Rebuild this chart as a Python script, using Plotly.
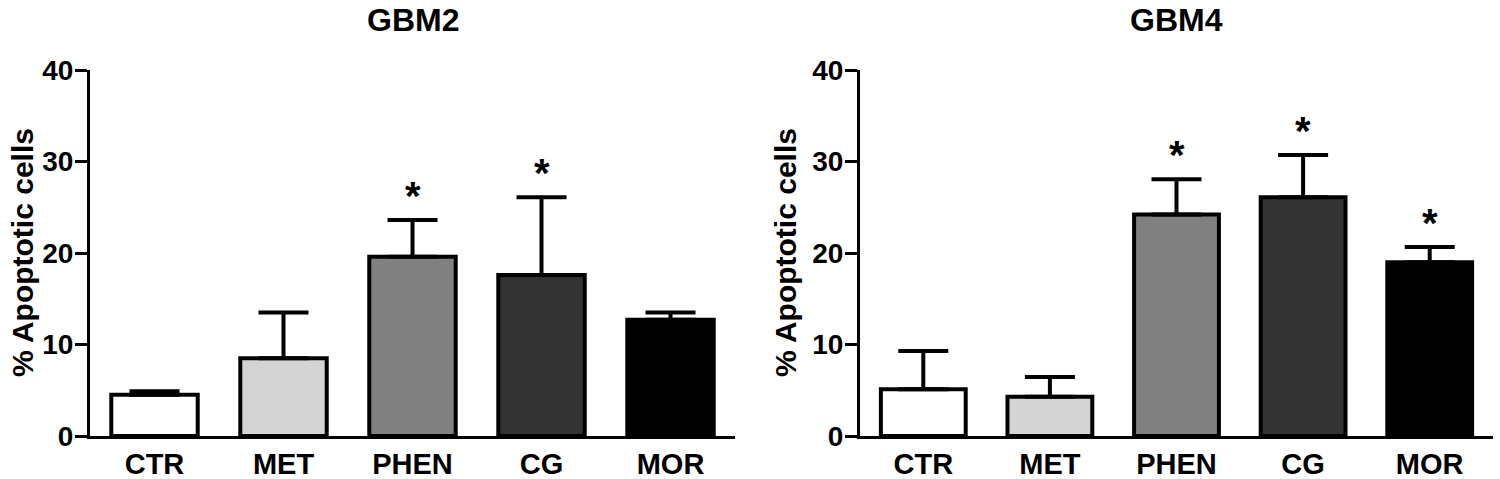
import plotly.graph_objects as go

categories = ["CTR", "MET", "PHEN", "CG", "MOR"]
bar_colors = ["#ffffff", "#d4d4d4", "#808080", "#333333", "#000000"]

gbm2_mean = [4.5, 8.5, 19.6, 17.6, 12.7]
gbm2_sem = [0.4, 5.0, 4.0, 8.5, 0.8]
gbm2_sig = ["", "", "*", "*", ""]

gbm4_mean = [5.1, 4.3, 24.2, 26.1, 19.0]
gbm4_sem = [4.2, 2.15, 3.85, 4.6, 1.65]
gbm4_sig = ["", "", "*", "*", "*"]

panel_titles = ["GBM2", "GBM4"]
y_title = "% Apoptotic cells"
y_ticks = [0, 10, 20, 30, 40]

FONT = "Liberation Sans, Arial, sans-serif"

fig = go.Figure()

panels = [(gbm2_mean, gbm2_sem, gbm2_sig, "x", "y"),
          (gbm4_mean, gbm4_sem, gbm4_sig, "x2", "y2")]

for mean, sem, sig, xa, ya in panels:
    fig.add_trace(go.Bar(
        x=categories, y=mean, xaxis=xa, yaxis=ya,
        marker=dict(color=bar_colors, line=dict(color="black", width=4)),
        error_y=dict(type="data", array=sem, arrayminus=[0] * len(sem),
                     symmetric=False, color="black", thickness=4, width=25),
        showlegend=False, hoverinfo="skip",
    ))
    for c, m, s, t in zip(categories, mean, sem, sig):
        if t:
            fig.add_annotation(x=c, y=m + s, xref=xa, yref=ya, text=t,
                               showarrow=False, yanchor="bottom", yshift=0,
                               font=dict(family=FONT, size=40, color="black", weight="bold"))

W, H = 1500, 479
ml, mr, mt, mb = 90, 7, 70, 43
pw = W - ml - mr
ph = H - mt - mb
left_dom = [0, (735 - ml) / pw]
right_dom = [(860 - ml) / pw, 1]

xax = dict(showline=True, linewidth=3, linecolor="black", ticks="", showgrid=False,
           zeroline=False, range=[-0.5, 4.5], automargin=False, ticklabelstandoff=0,
           tickfont=dict(family=FONT, size=29, color="black", weight="bold"))
yax = dict(showline=True, linewidth=3, linecolor="black", ticks="outside", ticklen=12,
           tickwidth=3, tickcolor="black", showgrid=False, zeroline=False,
           range=[0, 40], tickvals=y_ticks, automargin=False, ticklabelstandoff=-4,
           tickfont=dict(family=FONT, size=28, color="black", weight="bold"))

fig.update_layout(
    width=W, height=H,
    margin=dict(l=ml, r=mr, t=mt, b=mb),
    paper_bgcolor="white", plot_bgcolor="white",
    bargap=0.33,
    xaxis=dict(xax, domain=left_dom, anchor="y"),
    yaxis=dict(yax, anchor="x"),
    xaxis2=dict(xax, domain=right_dom, anchor="y2"),
    yaxis2=dict(yax, anchor="x2"),
)

title_y = 1 + mt / ph
for dom, t in zip([left_dom, right_dom], panel_titles):
    fig.add_annotation(x=(dom[0] + dom[1]) / 2, y=title_y, xref="paper", yref="paper",
                       text=t, showarrow=False, xanchor="center", yanchor="top",
                       font=dict(family=FONT, size=32, color="black", weight="bold"))

for px in [22, 785]:
    fig.add_annotation(x=(px - ml) / pw, y=0.5, xref="paper", yref="paper",
                       text=y_title, textangle=-90, showarrow=False,
                       xanchor="center", yanchor="middle",
                       font=dict(family=FONT, size=30, color="black", weight="bold"))

fig.write_html("out.html", config={"displayModeBar": False},
               post_script="document.body.style.margin='0';document.body.style.padding='0';")
